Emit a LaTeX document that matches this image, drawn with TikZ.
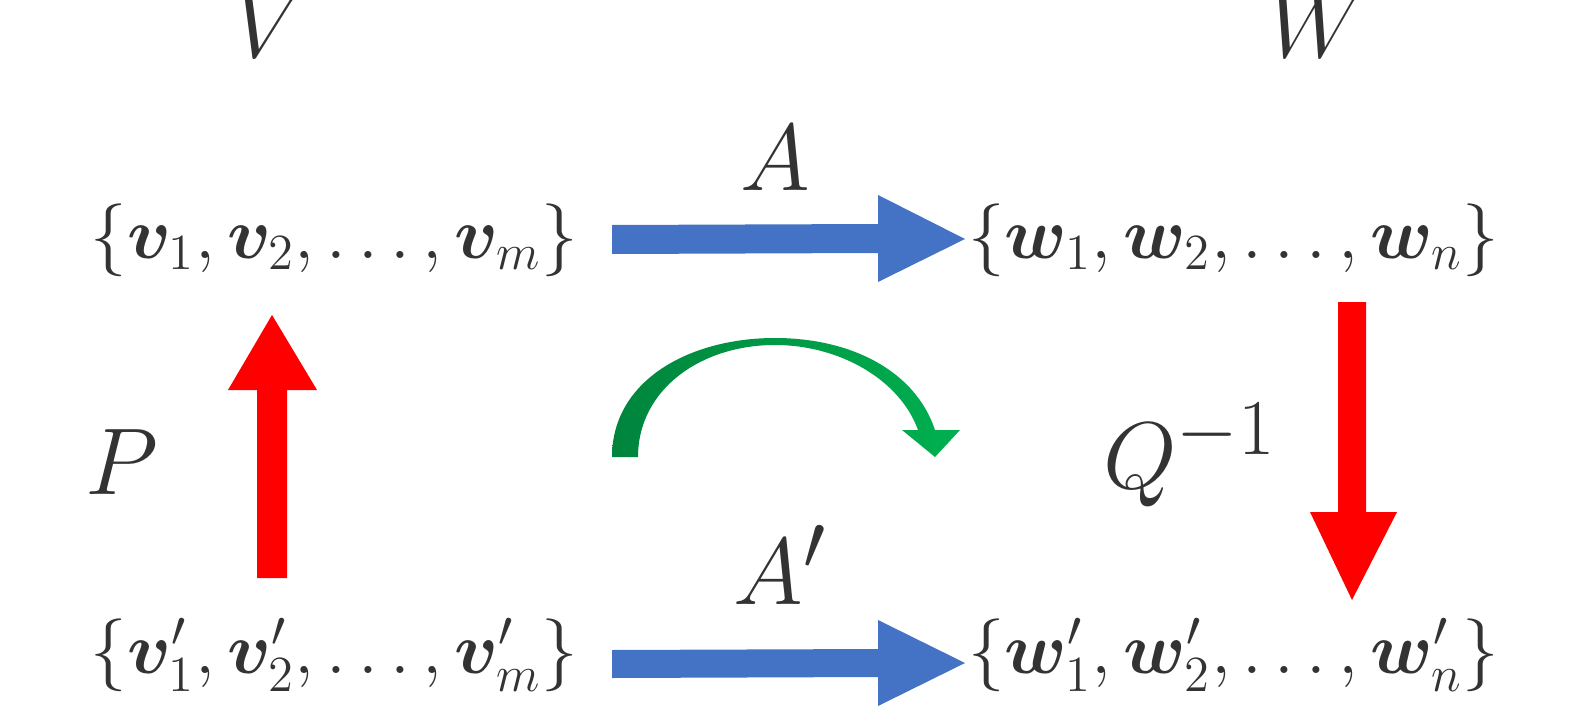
\documentclass[tikz,border=0pt]{standalone}
\usepackage{amsmath,bm}
\definecolor{txt}{HTML}{333333}
\definecolor{blu}{HTML}{4472C4}
\definecolor{grnA}{HTML}{00B050}
\definecolor{grnB}{HTML}{00843D}
\newcommand{\setsz}[1]{\scalebox{2}{\fontsize{20}{24}\selectfont #1}}
\newcommand{\mapsz}[1]{\scalebox{2.17}{\fontsize{24.88}{30}\selectfont #1}}
\tikzset{
  setlbl/.style={inner sep=0pt,text=txt},
  maplbl/.style={inner sep=0pt,text=txt},
  blockblue/.style={fill=blu,draw=none},
  blockred/.style={fill=red,draw=none}
}
\begin{document}
\begin{tikzpicture}[x=0.02cm,y=-0.02cm]
\useasboundingbox (0,0) rectangle (1591,716);
\clip (0,0) rectangle (1591,716);
% labels
\node[maplbl] (V) at (270,25) {\mapsz{$V$}};
\node[maplbl] (W) at (1318,25) {\mapsz{$W$}};
\node[maplbl] (A) at (775,158) {\mapsz{$A$}};
\node[maplbl] (Ap) at (780,565) {\mapsz{$A'$}};
\node[maplbl] (P) at (122,462) {\mapsz{$P$}};
\node[maplbl] (Q) at (1190,455) {\mapsz{$Q^{-1}$}};
% sets
\node[setlbl,anchor=east] (S1) at (578,240) {\setsz{$\{\bm{v}_1,\bm{v}_2,\ldots,\bm{v}_m\}$}};
\node[setlbl,anchor=west] (S2) at (968,240) {\setsz{$\{\bm{w}_1,\bm{w}_2,\ldots,\bm{w}_n\}$}};
\node[setlbl,anchor=east] (S3) at (578,655) {\setsz{$\{\bm{v}'_1,\bm{v}'_2,\ldots,\bm{v}'_m\}$}};
\node[setlbl,anchor=west] (S4) at (968,655) {\setsz{$\{\bm{w}'_1,\bm{w}'_2,\ldots,\bm{w}'_n\}$}};
% blue arrows
\fill[blockblue] (612,225) -- (878,224) -- (878,195) -- (965,239) -- (878,282) -- (878,253) -- (612,254) -- cycle;
\fill[blockblue] (612,650) -- (878,649) -- (878,620) -- (965,663) -- (878,706) -- (878,677) -- (612,678) -- cycle;
% red arrows
\fill[blockred] (257,578) -- (257,390) -- (228,390) -- (272,315) -- (317,390) -- (287,390) -- (287,578) -- cycle;
\fill[blockred] (1338,302) -- (1366,302) -- (1366,512) -- (1397,512) -- (1352,600) -- (1310,512) -- (1338,512) -- cycle;
% green curved arrow
\shade[left color=grnB,right color=grnA]
  (612,457) .. controls (612,380) and (690,338) .. (775,338)
  .. controls (850,338) and (915,370) .. (935,430)
  -- (960,430) -- (935,457) -- (902,430) -- (918,430)
  .. controls (900,380) and (840,345) .. (775,345)
  .. controls (700,345) and (638,390) .. (638,457) -- cycle;
\end{tikzpicture}
\end{document}
